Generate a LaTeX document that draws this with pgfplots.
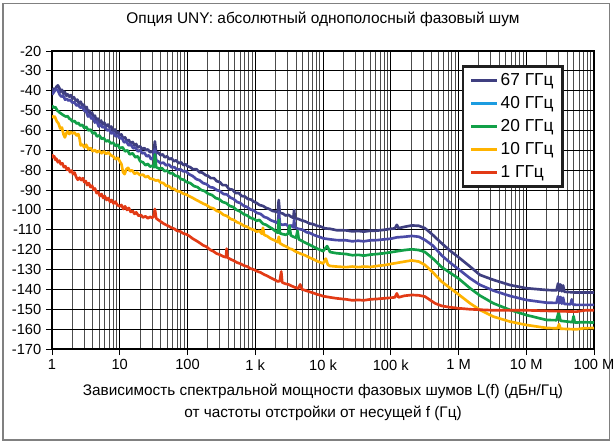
\documentclass[border=0pt]{standalone}
\usepackage{pgfplots}
\pgfplotsset{compat=1.18}
\usepackage{fontspec}
\setmainfont{Liberation Sans}
\definecolor{c67}{HTML}{3F3F80}
\definecolor{c40}{HTML}{4A4AA6}
\definecolor{c40leg}{HTML}{1C9CE0}
\definecolor{c20}{HTML}{12A048}
\definecolor{c10}{HTML}{FFB300}
\definecolor{c1}{HTML}{E23A15}
\begin{document}
\begin{tikzpicture}
\path[use as bounding box] (0pt,0pt) rectangle (462pt,332.25pt);
\draw[black!50, line width=1.1pt] (2.4pt,2.4pt) rectangle (457.2pt,329.8pt);
\begin{axis}[
  at={(39pt,70.5pt)}, anchor=south west,
  scale only axis, width=406.5pt, height=223.5pt,
  xmode=log, xmin=1, xmax=1e8, ymin=-170, ymax=-20,
  axis line style={black, line width=0.8pt},
  xtick={1,10,100,1000,1e4,1e5,1e6,1e7,1e8},
  xticklabels={1,10,100,1 k,10 k,100 k,1 M,10 M,100 M},
  minor xtick={2,3,4,5,6,7,8,9,20,30,40,50,60,70,80,90,200,300,400,500,600,700,800,900,
    2e3,3e3,4e3,5e3,6e3,7e3,8e3,9e3,2e4,3e4,4e4,5e4,6e4,7e4,8e4,9e4,
    2e5,3e5,4e5,5e5,6e5,7e5,8e5,9e5,2e6,3e6,4e6,5e6,6e6,7e6,8e6,9e6,
    2e7,3e7,4e7,5e7,6e7,7e7,8e7,9e7},
  ytick={-170,-160,-150,-140,-130,-120,-110,-100,-90,-80,-70,-60,-50,-40,-30,-20},
  yticklabels={-170,-160,-150,-140,-130,-120,-110,-100,-90,-80,-70,-60,-50,-40,-30,-20},
  xtick pos=left, ytick pos=left,
  tick align=outside, major tick length=4.5pt, minor tick length=0pt,
  tick style={black, line width=0.7pt},
  grid=both,
  major grid style={black, line width=0.7pt},
  minor grid style={black!70, line width=0.7pt},
  tick label style={font=\fontsize{11}{13}\selectfont},
  /pgf/number format/assume math mode=true,
  title={Опция UNY: абсолютный однополосный фазовый шум},
  title style={font=\fontsize{11.6}{14}\selectfont, at={(0.5,1)}, anchor=center, yshift=18pt},
  xlabel={Зависимость спектральной мощности фазовых шумов L(f) (дБн/Гц)\\от частоты отстройки от несущей f (Гц)},
  xlabel style={font=\fontsize{11.5}{16.5}\selectfont, align=center, at={(0.5,0)}, anchor=north, yshift=-23pt},
  legend style={at={(0.756,0.953)}, anchor=north west, draw=black!88, line width=2pt,
    font=\fontsize{13}{14}\selectfont, row sep=2.6pt, inner xsep=5pt, inner ysep=3.5pt},
  legend cell align=left,
  legend image code/.code={\draw[#1, line width=2.2pt] (0pt,0pt) -- (19pt,0pt);},
  every axis plot/.append style={line width=2pt, line join=round},
]
\addplot[c67] coordinates {(1,-40.5) (1.05,-39) (1.1,-39.8) (1.16,-38) (1.22,-37.3) (1.28,-38.5) (1.34,-40.5) (1.4,-39.5) (1.47,-41.5) (1.54,-40.5) (1.62,-42.5) (1.7,-41.8) (1.8,-43) (1.9,-42.2) (2.0,-44) (2.1,-43.2) (2.25,-45) (2.37,-44.5) (2.5,-46.5) (2.65,-45.5) (2.8,-47.5) (2.95,-47) (3.1,-49) (3.25,-48.2) (3.4,-51) (3.55,-50) (3.7,-52) (3.9,-51) (4.1,-53.5) (4.3,-52.5) (4.5,-55) (4.75,-54) (5.0,-56) (5.3,-55) (5.6,-57) (5.9,-56) (6.3,-58) (6.7,-57) (7.1,-58.5) (7.5,-58) (8.0,-60.5) (8.5,-59.5) (9.0,-61.5) (9.5,-60.8) (10,-62.5) (10.6,-62) (11.2,-64) (12,-63.5) (12.8,-65.5) (13.6,-64.8) (14.5,-66.5) (15.5,-65.8) (16.5,-67.5) (17.5,-66.8) (18.5,-68.5) (20,-68) (21.5,-69.5) (23,-68.8) (24.5,-70) (26,-69.5) (28,-71) (30,-70.5) (31.5,-71.5) (33,-65.5) (34.5,-71.5) (37,-71) (40,-72.5) (43,-72) (46,-73.5) (50,-73) (54,-74.5) (58,-74) (63,-75.5) (68,-75) (74,-76.5) (80,-76) (88,-77.5) (95,-77) (100,-78) (110,-78.5) (120,-79.5) (135,-79.5) (150,-81) (165,-81.2) (185,-82.5) (200,-82.8) (220,-84) (245,-84) (270,-85.5) (300,-86) (330,-87.5) (370,-87.5) (410,-89.5) (460,-89.8) (510,-91.5) (570,-91.5) (630,-93) (700,-93.2) (780,-94.5) (870,-94.8) (950,-95.8) (1050,-96.5) (1150,-97.5) (1300,-98) (1450,-99) (1600,-99.5) (1800,-100.5) (2000,-100.8) (2150,-101.2) (2220,-95) (2300,-101.5) (2550,-101.8) (2800,-102.8) (3100,-102.5) (3400,-103.5) (3650,-104) (3750,-100) (3850,-104.2) (4300,-104.5) (4800,-105.2) (5500,-105.8) (6300,-106.8) (7200,-107.2) (8200,-108) (9300,-108.4) (10700,-109.3) (12700,-109.5) (15850,-110.2) (22000,-110.3) (27000,-110.8) (33200,-110.6) (40000,-110.9) (50000,-110.5) (63100,-110.4) (80000,-110) (1e5,-109.5) (1.15e5,-109.3) (1.23e5,-107.5) (1.3e5,-109.2) (1.6e5,-108.5) (2.04e5,-107.8) (2.6e5,-108) (3.2e5,-109.2) (4e5,-112) (5.65e5,-116.8) (7.5e5,-120.5) (1e6,-123.8) (1.48e6,-128.5) (2.07e6,-132.7) (3.27e6,-135.2) (5.75e6,-137.8) (1e7,-139.4) (2e7,-140.3) (2.8e7,-140.5) (2.95e7,-137) (3.05e7,-140.8) (3.2e7,-137.5) (3.35e7,-141) (3.5e7,-138) (3.65e7,-141.2) (5.5e7,-141.6) (1e8,-141.6)};
\addlegendentry{67 ГГц}
\addlegendimage{c40leg}
\addlegendentry{40 ГГц}
\addplot[c40, forget plot] coordinates {(1,-42) (1.05,-41) (1.1,-40) (1.16,-39.2) (1.22,-39.8) (1.3,-42) (1.38,-43) (1.46,-42.5) (1.56,-44.5) (1.65,-44) (1.75,-45) (1.85,-44.5) (2.0,-46) (2.15,-45.8) (2.3,-47.5) (2.45,-47) (2.6,-48.5) (2.8,-48.2) (3.0,-50) (3.2,-50.5) (3.4,-53) (3.6,-52.2) (3.8,-54) (4.0,-53.5) (4.3,-56) (4.6,-55.5) (4.9,-58) (5.2,-57) (5.6,-58.5) (6.0,-58) (6.5,-60) (7.0,-59.5) (7.5,-61.5) (8.0,-61) (8.7,-63) (9.3,-62.5) (10,-64) (10.8,-63.8) (11.6,-66) (12.5,-65.5) (13.5,-67.5) (14.5,-67) (15.85,-69) (17,-68.5) (18.5,-70.5) (20,-70) (21.5,-71.5) (23,-71.2) (25,-73) (27,-72.5) (29,-74.5) (31,-74) (33,-69.5) (34.5,-75) (37,-75.5) (40,-76.5) (44,-76.2) (48,-77.5) (53,-77.2) (58,-78.5) (64,-78.5) (70,-79.8) (78,-79.5) (86,-80.5) (95,-80.5) (105,-82) (120,-83) (135,-84.5) (150,-85) (170,-86.5) (190,-87) (215,-88.5) (240,-88.8) (270,-90) (300,-90.5) (340,-92) (380,-92.2) (430,-93.8) (480,-94.5) (540,-96) (600,-96.5) (680,-98) (760,-98.5) (850,-99.8) (950,-100.2) (1050,-101.5) (1200,-102) (1350,-103.5) (1500,-104) (1700,-105.2) (1900,-105.8) (2150,-106.7) (2230,-101) (2320,-107.2) (2550,-107.5) (2800,-107.2) (3100,-108.2) (3400,-107.8) (3650,-108.8) (3750,-105) (3850,-108.8) (4300,-109.5) (5000,-110) (5700,-111.2) (6310,-111.5) (7200,-112.5) (8200,-113.2) (9300,-113.8) (1e4,-114.3) (12700,-114.8) (15850,-115.2) (22000,-115.3) (27000,-115.8) (33200,-115.5) (40000,-115.8) (50000,-115.3) (63100,-115.2) (80000,-114.8) (1e5,-114.5) (1.23e5,-113.8) (1.6e5,-113.5) (2.04e5,-113.1) (2.6e5,-113.5) (3.2e5,-115.1) (4.2e5,-118) (5.65e5,-122.9) (7.5e5,-126.5) (1e6,-129.8) (1.48e6,-134.4) (2.07e6,-137.7) (3.27e6,-140.6) (5.75e6,-143.3) (1e7,-145.3) (2e7,-146.7) (2.8e7,-146.8) (2.95e7,-143.5) (3.05e7,-147) (3.2e7,-143.8) (3.35e7,-147.2) (3.5e7,-144.2) (3.65e7,-147.3) (4.5e7,-147.5) (4.7e7,-145) (4.9e7,-147.6) (5.5e7,-147.8) (1e8,-147.8)};
\addplot[c20] coordinates {(1,-47.5) (1.06,-48.5) (1.12,-48.2) (1.2,-50) (1.3,-51) (1.4,-51.8) (1.5,-52.5) (1.6,-53) (1.7,-52.8) (1.8,-54) (1.9,-54.5) (2.0,-55.5) (2.15,-55.2) (2.3,-56.5) (2.45,-56.2) (2.6,-57.5) (2.8,-57.2) (3.0,-58.8) (3.2,-58.2) (3.45,-60) (3.7,-59.5) (4.0,-61.5) (4.3,-61) (4.6,-63) (5.0,-62.5) (5.4,-64.2) (5.8,-63.8) (6.3,-65.5) (6.8,-65) (7.4,-66.5) (8.0,-66.2) (8.7,-67.8) (9.4,-67.2) (10,-69) (11,-68.5) (12,-70.5) (13,-70) (14,-72) (15.5,-71.5) (17,-73.5) (18.5,-73) (20,-75.5) (22,-76) (24,-77.5) (26,-76.8) (28,-78.2) (30,-77.8) (32,-78.5) (33,-72) (34.5,-78.5) (38,-79.2) (42,-79) (46,-80.5) (50,-80.2) (55,-81.5) (60,-81.5) (66,-82.8) (73,-83) (80,-84.5) (88,-84.8) (97,-86) (110,-86.5) (125,-88) (140,-88.5) (160,-90) (180,-90.5) (200,-91.8) (230,-92.5) (260,-94) (290,-94.5) (330,-96) (370,-96.5) (420,-98) (470,-98.5) (530,-100) (600,-100.8) (680,-102.2) (760,-102.8) (850,-104) (950,-104.5) (1050,-105.5) (1150,-105) (1300,-107) (1450,-107.5) (1600,-108.5) (1800,-109.5) (2000,-110.8) (2150,-111.5) (2230,-105) (2320,-111.8) (2550,-112.2) (2800,-112.5) (3050,-112) (3200,-108) (3350,-112.8) (3650,-113.5) (4000,-114) (4200,-110.5) (4400,-114.8) (5000,-115.8) (5700,-116.8) (6310,-117.5) (7200,-118.5) (8200,-119.5) (9300,-120.2) (1e4,-120.8) (11500,-118.2) (12700,-121.2) (15850,-121.8) (22000,-122.2) (27000,-122.8) (33200,-122.6) (40000,-123) (50000,-122.5) (63100,-122.2) (80000,-121.8) (1e5,-121.3) (1.6e5,-120.2) (2.04e5,-119.8) (2.6e5,-120.2) (3.2e5,-121.2) (4.2e5,-124.5) (5.65e5,-128.8) (1e6,-134.5) (1.48e6,-139.4) (2.07e6,-143.1) (3.27e6,-147) (5.75e6,-150.3) (1e7,-152.9) (2e7,-155.4) (2.8e7,-155.5) (3.0e7,-151.5) (3.2e7,-155.8) (4.8e7,-156.5) (5e7,-153.5) (5.2e7,-156.7) (7e7,-156.5) (1e8,-156.7)};
\addlegendentry{20 ГГц}
\addplot[c10] coordinates {(1,-52.5) (1.05,-53.5) (1.1,-53) (1.18,-55.5) (1.25,-56.5) (1.32,-59) (1.4,-58.5) (1.48,-62) (1.55,-63.5) (1.62,-61.5) (1.7,-60.5) (1.8,-61.8) (1.9,-60.8) (2.0,-61.5) (2.15,-61) (2.3,-62.5) (2.45,-61.8) (2.55,-64) (2.65,-67.5) (2.8,-67) (3.0,-68.5) (3.2,-67.2) (3.45,-69.5) (3.7,-68.8) (4.0,-70.5) (4.3,-69.8) (4.6,-71) (5.0,-70.2) (5.4,-71.5) (5.8,-70.5) (6.3,-71.8) (6.8,-71) (7.4,-72.5) (8.0,-73) (8.7,-74.5) (9.4,-73.8) (10,-75.5) (10.6,-77) (11.2,-81) (11.8,-82) (12.5,-79.5) (13.3,-78.8) (14.2,-80.5) (15.2,-80) (16.5,-81.8) (18,-81.2) (20,-82.5) (22,-82.2) (24,-83.5) (26,-83) (28,-84.2) (31,-84.5) (34,-85.2) (37,-85) (40,-86.2) (44,-86.5) (48,-87.8) (53,-88) (58,-89.2) (64,-89.5) (70,-90.5) (78,-90.8) (86,-91.8) (95,-92.2) (105,-93) (120,-94) (135,-95) (150,-95.8) (170,-96.8) (190,-97.5) (215,-98.8) (240,-99.2) (270,-100.5) (300,-101) (340,-102.5) (380,-103) (430,-104.5) (480,-105) (540,-106.2) (600,-106.8) (680,-108) (760,-108.5) (850,-109.5) (950,-110) (1050,-111) (1150,-110.5) (1250,-112) (1300,-109) (1350,-112.5) (1500,-113.2) (1700,-114.5) (1900,-115.2) (2150,-116.2) (2230,-113.5) (2320,-116.8) (2600,-117.8) (2900,-118.5) (3200,-119.5) (3500,-119.8) (3864,-120.8) (4300,-121.5) (4800,-122.2) (5400,-122.8) (6310,-124) (7200,-124.8) (8200,-125.8) (9300,-126.5) (1e4,-127) (11000,-124.5) (11800,-127.6) (12700,-128.2) (15850,-128.5) (22000,-128.8) (27000,-128.5) (33200,-128.8) (40000,-128.5) (50000,-128.7) (63100,-128.2) (80000,-127.8) (1e5,-127.2) (1.6e5,-126) (2.04e5,-125.4) (2.6e5,-126) (3.2e5,-127.7) (4.2e5,-131.5) (5.65e5,-136.1) (1e6,-142.5) (1.48e6,-147) (2.07e6,-150.3) (3.27e6,-153.7) (5.75e6,-156.2) (1e7,-157.9) (2e7,-159.4) (2.9e7,-159.6) (3.05e7,-157.5) (3.2e7,-159.8) (5.5e7,-160.1) (7e7,-159.6) (1e8,-159.4)};
\addlegendentry{10 ГГц}
\addplot[c1] coordinates {(1,-72) (1.04,-73.5) (1.08,-73) (1.12,-74.8) (1.16,-74.2) (1.22,-76) (1.28,-75.2) (1.35,-77) (1.42,-76.5) (1.5,-78.5) (1.58,-78) (1.66,-79.8) (1.75,-79) (1.85,-81) (1.95,-80.2) (2.05,-82) (2.15,-81.2) (2.28,-83.5) (2.4,-84.8) (2.55,-83.8) (2.7,-85) (2.85,-84) (3.0,-86) (3.15,-85.5) (3.3,-87.5) (3.5,-86.5) (3.7,-88.5) (3.9,-87.8) (4.1,-89.8) (4.3,-89.2) (4.55,-91.5) (4.8,-91) (5.1,-93) (5.4,-92) (5.7,-94) (6.0,-93) (6.4,-95) (6.8,-94) (7.2,-96) (7.6,-95) (8.1,-96.8) (8.6,-95.8) (9.2,-97.5) (10,-98.2) (10.6,-97.5) (11.3,-99.5) (12,-98.2) (12.8,-100) (13.6,-99) (14.5,-101) (15.5,-100.5) (16.5,-102) (17.5,-101.2) (19,-103) (20.5,-102.5) (22,-103.8) (24,-103.2) (26,-104.2) (28,-103.5) (30,-104) (31.6,-103.2) (33,-99.5) (34.5,-104.2) (37,-105) (40,-105.8) (44,-106.8) (48,-107.5) (53,-108.2) (58,-109) (64,-109.5) (70,-110.5) (78,-110.8) (86,-111.8) (95,-112.2) (105,-113) (120,-114.5) (135,-115.5) (150,-116.5) (170,-117.8) (190,-118.5) (215,-120) (240,-120.8) (270,-122) (300,-122.5) (340,-123.5) (370,-123.8) (378,-119.5) (390,-124) (430,-124.8) (480,-125.5) (540,-126.5) (600,-127) (680,-128) (760,-128.5) (850,-129.5) (950,-130) (1050,-130.8) (1200,-131.5) (1350,-132.5) (1500,-133.2) (1700,-134.2) (1900,-135) (2150,-136) (2300,-135.8) (2420,-131) (2500,-136.5) (2800,-137.2) (3100,-137.5) (3400,-138.2) (3864,-139) (4300,-139.5) (4600,-137.5) (4900,-140) (5500,-140.5) (6310,-141.2) (7200,-141.8) (8200,-142.5) (9300,-143) (1e4,-143.4) (12700,-144) (15850,-144.5) (22000,-145) (27000,-145.5) (33200,-145.3) (40000,-145.5) (50000,-145) (63100,-144.8) (80000,-144.5) (1e5,-144.2) (1.15e5,-144) (1.23e5,-142) (1.3e5,-144) (1.6e5,-143.2) (2.04e5,-142.8) (2.6e5,-143) (3.2e5,-143.6) (4.5e5,-147) (5.65e5,-148.3) (7.5e5,-149) (1e6,-149.5) (1.48e6,-150) (3.16e6,-150.5) (1e7,-150.5) (3.16e7,-151) (5.5e7,-151.2) (7.5e7,-150.5) (1e8,-150.5)};
\addlegendentry{1 ГГц}
\end{axis}
\end{tikzpicture}
\end{document}
